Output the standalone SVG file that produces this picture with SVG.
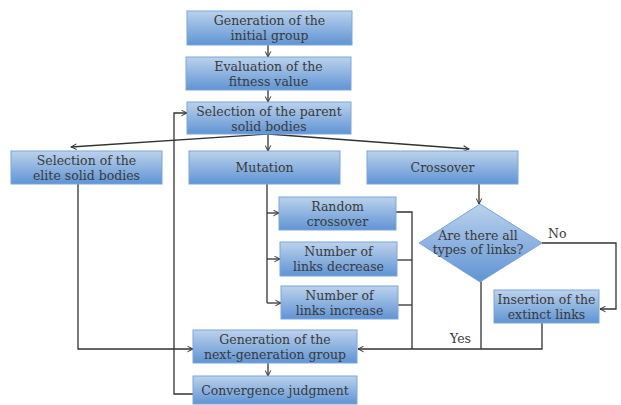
<svg xmlns="http://www.w3.org/2000/svg" width="621" height="405" viewBox="0 0 621 405">
  <defs>
    <linearGradient id="boxFill" x1="0" y1="0" x2="0" y2="1">
      <stop offset="0" stop-color="#bcd2ec"/>
      <stop offset="1" stop-color="#5f94d4"/>
    </linearGradient>
    <marker id="arrow" viewBox="0 0 10 10" refX="9" refY="5" markerWidth="7" markerHeight="7" orient="auto" markerUnits="userSpaceOnUse">
      <path d="M1,1 L9,5 L1,9" fill="none" stroke="#333" stroke-width="1.4"/>
    </marker>
    <style>
      .box { fill: url(#boxFill); stroke: #7aa6dc; stroke-width: 1; }
      .label { font-family: "DejaVu Serif", "Liberation Serif", serif; font-size: 12.5px; fill: #3a3a3a; text-anchor: middle; }
      .tag { font-family: "DejaVu Serif", "Liberation Serif", serif; font-size: 12.5px; fill: #3a3a3a; }
      .wire { fill: none; stroke: #333; stroke-width: 1.3; }
      .wire.arr { marker-end: url(#arrow); }
    </style>
  </defs>
  <rect width="621" height="405" fill="#ffffff"/>

  <!-- connectors -->
  <g id="connectors">
    <path class="wire arr" d="M268,45 V57"/>
    <path class="wire arr" d="M268,90 V102"/>
    <path class="wire arr" d="M268,134 L71,147"/>
    <path class="wire arr" d="M268,134 V151"/>
    <path class="wire arr" d="M268,134 L469,149"/>
    <path class="wire arr" d="M479,184 V204"/>
    <!-- mutation branches -->
    <path class="wire" d="M267,184 V303"/>
    <path class="wire arr" d="M267,213 H279"/>
    <path class="wire arr" d="M267,259 H280"/>
    <path class="wire arr" d="M267,303 H281"/>
    <!-- mutation outputs merge -->
    <path class="wire" d="M396,212 H412 V349"/>
    <path class="wire" d="M397,260 H412"/>
    <path class="wire" d="M398,305 H412"/>
    <!-- decision branches -->
    <path class="wire arr" d="M542,243 H616 V309 H600"/>
    <path class="wire" d="M481,281 V349"/>
    <path class="wire arr" d="M542,323 V349 H358"/>
    <!-- elite path -->
    <path class="wire arr" d="M78,184 V349 H193"/>
    <path class="wire arr" d="M268,363 V376"/>
    <!-- loop back -->
    <path class="wire arr" d="M193,394 H174 V113 H187"/>
  </g>

  <g id="initial-group">
    <rect class="box" x="187" y="11" width="165" height="34"/>
    <text class="label" x="269.5" y="25">Generation of the</text>
    <text class="label" x="269.5" y="40">initial group</text>
  </g>
  <g id="fitness">
    <rect class="box" x="186" y="57" width="165" height="33"/>
    <text class="label" x="268.5" y="71">Evaluation of the</text>
    <text class="label" x="268.5" y="86">fitness value</text>
  </g>
  <g id="parent-selection">
    <rect class="box" x="187" y="102" width="164" height="32"/>
    <text class="label" x="269" y="116">Selection of the parent</text>
    <text class="label" x="269" y="131">solid bodies</text>
  </g>
  <g id="elite-selection">
    <rect class="box" x="11" y="151" width="151" height="33"/>
    <text class="label" x="86.5" y="165">Selection of the</text>
    <text class="label" x="86.5" y="180">elite solid bodies</text>
  </g>
  <g id="mutation">
    <rect class="box" x="189" y="151" width="151" height="33"/>
    <text class="label" x="264.5" y="172">Mutation</text>
  </g>
  <g id="crossover">
    <rect class="box" x="367" y="151" width="151" height="33"/>
    <text class="label" x="442.5" y="172">Crossover</text>
  </g>
  <g id="random-crossover">
    <rect class="box" x="279" y="197" width="117" height="33"/>
    <text class="label" x="337.5" y="211">Random</text>
    <text class="label" x="337.5" y="226">crossover</text>
  </g>
  <g id="links-decrease">
    <rect class="box" x="280" y="242" width="117" height="34"/>
    <text class="label" x="338.5" y="256">Number of</text>
    <text class="label" x="338.5" y="271">links decrease</text>
  </g>
  <g id="links-increase">
    <rect class="box" x="281" y="286" width="117" height="33"/>
    <text class="label" x="339.5" y="300">Number of</text>
    <text class="label" x="339.5" y="315">links increase</text>
  </g>
  <g id="link-check">
    <polygon class="box" points="480,204 542,243 480,282 419,243"/>
    <text class="label" x="478" y="240">Are there all</text>
    <text class="label" x="478" y="254">types of links?</text>
    <text class="tag" x="548" y="238">No</text>
    <text class="tag" x="450" y="343">Yes</text>
  </g>
  <g id="extinct-links">
    <rect class="box" x="494" y="290" width="105" height="33"/>
    <text class="label" x="546.5" y="304">Insertion of the</text>
    <text class="label" x="546.5" y="319">extinct links</text>
  </g>
  <g id="next-generation">
    <rect class="box" x="193" y="330" width="164" height="33"/>
    <text class="label" x="275" y="344">Generation of the</text>
    <text class="label" x="275" y="359">next-generation group</text>
  </g>
  <g id="convergence">
    <rect class="box" x="193" y="376" width="164" height="28"/>
    <text class="label" x="275" y="395">Convergence judgment</text>
  </g>
</svg>
